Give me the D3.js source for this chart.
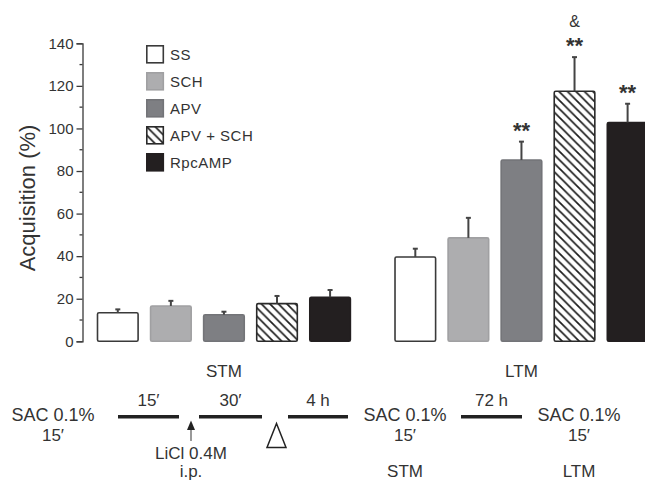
<!DOCTYPE html>
<html>
<head>
<meta charset="utf-8">
<script src="https://cdn.jsdelivr.net/npm/d3@7"></script>
<style>
  body { margin: 0; background: #fff; }
  svg { display: block; font-family: "Liberation Sans", Arial, sans-serif; }
</style>
</head>
<body>
<svg id="chart" width="645" height="482"></svg>
<script>
// chart values
const phases = ["STM", "LTM"];
const groups = ["SS", "SCH", "APV", "APV + SCH", "RpcAMP"];
const stmMeans = [13.4, 16.6, 12.5, 17.7, 20.7];
const stmErrors = [1.6, 2.4, 1.4, 3.6, 3.4];
const ltmMeans = [39.6, 48.6, 85.2, 117.5, 102.8];
const ltmErrors = [3.9, 9.4, 8.6, 16.0, 8.8];
const ltmStars = ["", "", "**", "**", "**"];
const ltmAmp = ["", "", "", "&", ""];
const yTicks = [0, 20, 40, 60, 80, 100, 120, 140];

const fills = {"SS": "#ffffff", "SCH": "#adadaf", "APV": "#7e7f83", "APV + SCH": "url(#hatch)", "RpcAMP": "#231f20"};
const strokes = {"SS": "#3a3a3a", "SCH": "#a0a0a2", "APV": "#737478", "APV + SCH": "#2a2a2a", "RpcAMP": "#231f20"};

const svg = d3.select("#chart");

// hatch pattern
const defs = svg.append("defs");
const pat = defs.append("pattern")
    .attr("id", "hatch")
    .attr("patternUnits", "userSpaceOnUse")
    .attr("width", 8.5).attr("height", 8.5);
pat.append("rect").attr("width", 8.5).attr("height", 8.5).attr("fill", "#fff");
pat.append("path")
    .attr("d", "M-2,-2 L10.5,10.5 M-2,6.5 L2,10.5 M6.5,-2 L10.5,2")
    .attr("stroke", "#1e1e1e").attr("stroke-width", 1.7);

const y = d3.scaleLinear().domain([0, 140]).range([341.3, 43.3]);
const x0 = d3.scaleBand().domain(phases).range([97.5, 647.9]).paddingInner(0.15);
const x1 = d3.scaleBand().domain(groups).range([0, x0.bandwidth()]).paddingInner(0.235);

const rows = [];
phases.forEach(p => {
    groups.forEach((g, i) => {
        rows.push({
            phase: p, group: g,
            mean: p === "STM" ? stmMeans[i] : ltmMeans[i],
            err: p === "STM" ? stmErrors[i] : ltmErrors[i],
            stars: p === "STM" ? "" : ltmStars[i],
            amp: p === "STM" ? "" : ltmAmp[i]
        });
    });
});

// y axis
const yAxis = svg.append("g")
    .attr("transform", "translate(82.5,0)")
    .call(d3.axisLeft(y).tickValues(yTicks).tickSize(6).tickPadding(3));
yAxis.select(".domain").attr("stroke", "#3a3a3a").attr("stroke-width", 1.3);
yAxis.selectAll(".tick line").attr("stroke", "#3a3a3a").attr("stroke-width", 1.3);
yAxis.selectAll(".tick text").attr("font-size", 15).attr("fill", "#333")
    .attr("font-family", "Liberation Sans, Arial, sans-serif");

// minor ticks
svg.append("g").selectAll("line")
    .data(d3.range(10, 140, 20))
    .join("line")
    .attr("x1", 79.5).attr("x2", 82.5)
    .attr("y1", d => y(d)).attr("y2", d => y(d))
    .attr("stroke", "#3a3a3a").attr("stroke-width", 1.3);

svg.append("text")
    .attr("transform", "translate(35,198) rotate(-90)")
    .attr("text-anchor", "middle")
    .attr("font-size", 22)
    .attr("fill", "#333")
    .text("Acquisition (%)");

// bars
const barG = svg.append("g");
barG.selectAll("rect")
    .data(rows)
    .join("rect")
    .attr("x", d => x0(d.phase) + x1(d.group))
    .attr("y", d => y(d.mean))
    .attr("width", x1.bandwidth())
    .attr("height", d => y(0) - y(d.mean))
    .attr("rx", 1.5)
    .attr("fill", d => fills[d.group])
    .attr("stroke", d => strokes[d.group])
    .attr("stroke-width", 1.6);

// error bars
const errG = svg.append("g").attr("stroke", "#444").attr("stroke-width", 2);
errG.selectAll("line.v")
    .data(rows)
    .join("line").attr("class", "v")
    .attr("x1", d => x0(d.phase) + x1(d.group) + x1.bandwidth() / 2)
    .attr("x2", d => x0(d.phase) + x1(d.group) + x1.bandwidth() / 2)
    .attr("y1", d => y(d.mean))
    .attr("y2", d => y(d.mean + d.err));
errG.selectAll("line.c")
    .data(rows)
    .join("line").attr("class", "c")
    .attr("x1", d => x0(d.phase) + x1(d.group) + x1.bandwidth() / 2 - 2.5)
    .attr("x2", d => x0(d.phase) + x1(d.group) + x1.bandwidth() / 2 + 2.5)
    .attr("y1", d => y(d.mean + d.err))
    .attr("y2", d => y(d.mean + d.err));

// significance marks
svg.append("g").selectAll("text")
    .data(rows.filter(d => d.stars))
    .join("text")
    .attr("x", d => x0(d.phase) + x1(d.group) + x1.bandwidth() / 2)
    .attr("y", d => y(d.mean + d.err) - 4)
    .attr("text-anchor", "middle")
    .attr("font-size", 22)
    .attr("font-weight", "bold")
    .attr("fill", "#333")
    .text(d => d.stars);
svg.append("g").selectAll("text")
    .data(rows.filter(d => d.amp))
    .join("text")
    .attr("x", d => x0(d.phase) + x1(d.group) + x1.bandwidth() / 2)
    .attr("y", d => y(d.mean + d.err) - 30)
    .attr("text-anchor", "middle")
    .attr("font-size", 16)
    .attr("fill", "#333")
    .text(d => d.amp);

// phase labels under the groups
svg.append("g").selectAll("text")
    .data(phases)
    .join("text")
    .attr("x", d => x0(d) + x0.bandwidth() / 2)
    .attr("y", 377)
    .attr("text-anchor", "middle")
    .attr("font-size", 17)
    .attr("fill", "#333")
    .text(d => d);

// legend
const legend = svg.append("g").attr("transform", "translate(146,45)");
const li = legend.selectAll("g")
    .data(groups)
    .join("g")
    .attr("transform", (d, i) => `translate(0,${i * 27})`);
li.append("rect")
    .attr("x", 0.8).attr("y", 0.8)
    .attr("width", 16.5).attr("height", 17)
    .attr("fill", d => fills[d])
    .attr("stroke", d => strokes[d])
    .attr("stroke-width", 1.6);
li.append("text")
    .attr("x", 24).attr("y", 9.5)
    .attr("dy", "0.35em")
    .attr("font-size", 15)
    .attr("letter-spacing", 0.5)
    .attr("fill", "#333")
    .text(d => d);

// protocol timeline
const tl = svg.append("g").attr("fill", "#333").attr("font-size", 17).attr("text-anchor", "middle");
const segs = [[118, 179, "15′"], [199, 262, "30′"], [288, 348, "4 h"], [461, 522, "72 h"]];
segs.forEach(s => {
    tl.append("line")
        .attr("x1", s[0]).attr("x2", s[1]).attr("y1", 416.7).attr("y2", 416.7)
        .attr("stroke", "#222").attr("stroke-width", 3.6);
    tl.append("text").attr("x", (s[0] + s[1]) / 2).attr("y", 405.5).text(s[2]);
});
[[53, ""], [405, "STM"], [579, "LTM"]].forEach(s => {
    tl.append("text").attr("x", s[0]).attr("y", 421).attr("font-size", 18).text("SAC 0.1%");
    tl.append("text").attr("x", s[0]).attr("y", 441).text("15′");
    if (s[1]) tl.append("text").attr("x", s[0]).attr("y", 477).text(s[1]);
});
// LiCl arrow
tl.append("line").attr("x1", 191).attr("x2", 191).attr("y1", 428).attr("y2", 441)
    .attr("stroke", "#555").attr("stroke-width", 1.2);
tl.append("path").attr("d", "M187,430 L195,430 L191,420.5 Z").attr("fill", "#222");
tl.append("text").attr("x", 191).attr("y", 459).text("LiCl 0.4M");
tl.append("text").attr("x", 191).attr("y", 477).text("i.p.");
// open triangle
tl.append("path").attr("d", "M267,447.5 L286,447.5 L276.5,423.5 Z")
    .attr("fill", "none").attr("stroke", "#222").attr("stroke-width", 1.5);
</script>
</body>
</html>
